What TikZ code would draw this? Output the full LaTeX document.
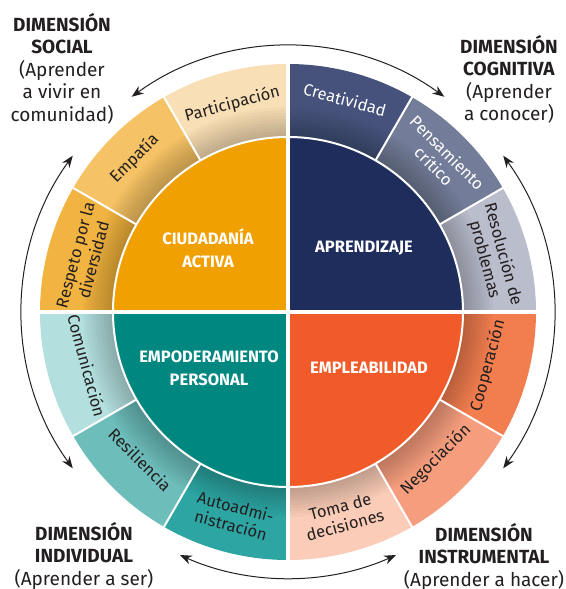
\documentclass[tikz,border=0pt]{standalone}
\usepackage{fontspec}
\setmainfont{Fira Sans}
\usepackage{xcolor}
\usepackage{tikz}
\usetikzlibrary{positioning,arrows.meta}

\definecolor{ink}{HTML}{231F20}
\definecolor{ciudC}{HTML}{F0A000}
\definecolor{partC}{HTML}{F9DFB5}
\definecolor{empaC}{HTML}{F5C265}
\definecolor{respC}{HTML}{F2B440}
\definecolor{aprC}{HTML}{1F2D5C}
\definecolor{creaC}{HTML}{46527B}
\definecolor{pensC}{HTML}{737C98}
\definecolor{resoC}{HTML}{B9BDCC}
\definecolor{emplC}{HTML}{F15A29}
\definecolor{coopC}{HTML}{F27D4F}
\definecolor{negoC}{HTML}{F59D7C}
\definecolor{tomaC}{HTML}{FBCDB8}
\definecolor{empoC}{HTML}{00877F}
\definecolor{comuC}{HTML}{B3DFDF}
\definecolor{resiC}{HTML}{6DBDBB}
\definecolor{autoC}{HTML}{2DA5A2}

\begin{document}
\begin{tikzpicture}[x=1pt, y=1pt,
    sep/.style={draw=white, line width=2pt},
    gap/.style={draw=white, line width=3.5pt},
    core/.style={font=\fontsize{16.5}{23}\selectfont\bfseries, text=white, align=center, inner sep=0pt},
    lbl/.style={font=\fontsize{16.5}{19}\selectfont, text=ink, align=center, inner sep=0pt},
    dim/.style={font=\fontsize{19}{22.5}\selectfont, text=ink, align=center, inner sep=0pt, anchor=north},
    arrow/.style={{Stealth[length=12pt,width=9pt]}-{Stealth[length=12pt,width=9pt]}, draw=ink, line width=1pt}
]
\useasboundingbox (-288,-277) rectangle (277,312);

% outer ring
\fill[partC] (0,0) -- (90:248) arc[start angle=90, end angle=120, radius=248] -- cycle;
\fill[empaC] (0,0) -- (120:248) arc[start angle=120, end angle=150, radius=248] -- cycle;
\fill[respC] (0,0) -- (150:248) arc[start angle=150, end angle=180, radius=248] -- cycle;
\fill[creaC] (0,0) -- (60:248) arc[start angle=60, end angle=90, radius=248] -- cycle;
\fill[pensC] (0,0) -- (30:248) arc[start angle=30, end angle=60, radius=248] -- cycle;
\fill[resoC] (0,0) -- (0:248) arc[start angle=0, end angle=30, radius=248] -- cycle;
\fill[coopC] (0,0) -- (-30:248) arc[start angle=-30, end angle=0, radius=248] -- cycle;
\fill[negoC] (0,0) -- (-60:248) arc[start angle=-60, end angle=-30, radius=248] -- cycle;
\fill[tomaC] (0,0) -- (-90:248) arc[start angle=-90, end angle=-60, radius=248] -- cycle;
\fill[comuC] (0,0) -- (180:248) arc[start angle=180, end angle=210, radius=248] -- cycle;
\fill[resiC] (0,0) -- (210:248) arc[start angle=210, end angle=240, radius=248] -- cycle;
\fill[autoC] (0,0) -- (240:248) arc[start angle=240, end angle=270, radius=248] -- cycle;
\foreach \r in {178,181,...,205}
    \fill[black, opacity=0.025] (0,0) circle (\r);
\foreach \a in {30,60,120,150,210,240,300,330}
    \draw[sep] (0,0) -- (\a:249);

% inner circle
\fill[ciudC] (0,0) -- (90:175) arc[start angle=90, end angle=180, radius=175] -- cycle;
\fill[aprC] (0,0) -- (0:175) arc[start angle=0, end angle=90, radius=175] -- cycle;
\fill[emplC] (0,0) -- (-90:175) arc[start angle=-90, end angle=0, radius=175] -- cycle;
\fill[empoC] (0,0) -- (180:175) arc[start angle=180, end angle=270, radius=175] -- cycle;
\draw[sep] (0,0) circle (175);
\draw[gap] (-250,0) -- (250,0);
\draw[gap] (0,-250) -- (0,250);

\node[core] (ciudadania) at (-80,64) {CIUDADANÍA\\ACTIVA};
\node[core] (aprendizaje) at (76,64) {APRENDIZAJE};
\node[core] (empleabilidad) at (81,-56) {EMPLEABILIDAD};
\node[core] (empoderamiento) at (-79,-56) {EMPODERAMIENTO\\PERSONAL};

\node[lbl, rotate=15] (participacion) at (105:215) {Participación};
\node[lbl, rotate=45] (empatia) at (135:217) {Empatía};
\node[lbl, rotate=75] (respeto) at (165:211) {Respeto por la\\diversidad};
\node[lbl, rotate=-15, text=white] (creatividad) at (75:220) {Creatividad};
\node[lbl, rotate=-45, text=white] (pensamiento) at (45:216) {Pensamiento\\crítico};
\node[lbl, rotate=-75] (resolucion) at (15:213) {Resolución de\\problemas};
\node[lbl, rotate=75] (cooperacion) at (-15:207) {Cooperación};
\node[lbl, rotate=45] (negociacion) at (-45:209) {Negociación};
\node[lbl, rotate=15] (toma) at (-75:211) {Toma de\\decisiones};
\node[lbl, rotate=-75] (comunicacion) at (195:208) {Comunicación};
\node[lbl, rotate=-45] (resiliencia) at (225:209) {Resiliencia};
\node[lbl, rotate=-15] (autoadmin) at (255:211) {Autoadmi-\\nistración};

\node[dim] (social) at (-226,299) {\textbf{DIMENSIÓN}\\\textbf{SOCIAL}\\(Aprender\\a vivir en\\comunidad)};
\node[dim] (cognitiva) at (221,277) {\textbf{DIMENSIÓN}\\\textbf{COGNITIVA}\\(Aprender\\a conocer)};
\node[dim] (individual) at (-204,-210) {\textbf{DIMENSIÓN}\\\textbf{INDIVIDUAL}\\(Aprender a ser)};
\node[dim] (instrumental) at (196,-211) {\textbf{DIMENSIÓN}\\\textbf{INSTRUMENTAL}\\(Aprender a hacer)};

\coordinate (topL) at (126:266);
\coordinate (rightT) at (36:266);
\coordinate (botR) at (-66:266);
\coordinate (leftB) at (216:266);
\draw[arrow] (topL) arc[start angle=126, end angle=54, radius=266];
\draw[arrow] (rightT) arc[start angle=36, end angle=-36, radius=266];
\draw[arrow] (botR) arc[start angle=-66, end angle=-114, radius=266];
\draw[arrow] (leftB) arc[start angle=216, end angle=144, radius=266];

\end{tikzpicture}
\end{document}
